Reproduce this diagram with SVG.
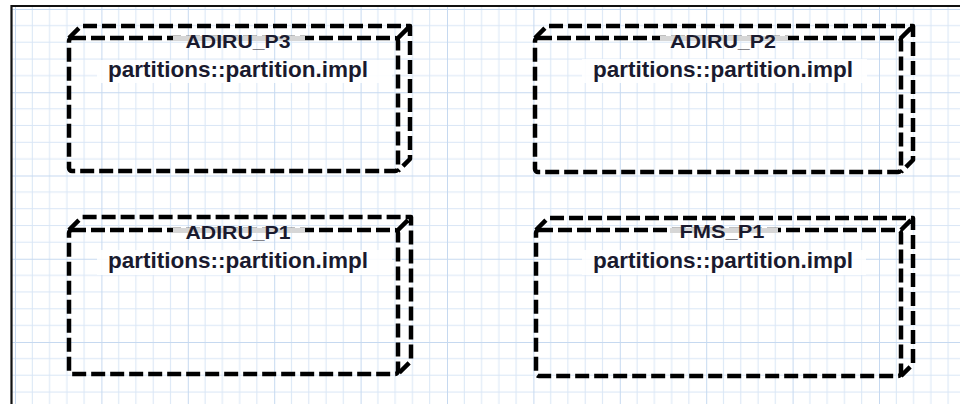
<svg xmlns="http://www.w3.org/2000/svg" width="960" height="404" viewBox="0 0 960 404">
  <defs>
    <pattern id="grid" patternUnits="userSpaceOnUse" x="15" y="9" width="86.4" height="83.25">
      <g stroke="#d9e6f6" stroke-width="1" fill="none">
        <path d="M17.28 0V83.25M34.56 0V83.25M51.84 0V83.25M69.12 0V83.25"/>
        <path d="M0 16.65H86.4M0 33.3H86.4M0 49.95H86.4M0 66.6H86.4"/>
      </g>
      <g stroke="#c6d9f0" stroke-width="1" fill="none">
        <path d="M0.5 0V83.25M0 0.5H86.4"/>
      </g>
    </pattern>
    <style>
      .box { fill: none; stroke: #000; stroke-width: 4.5; stroke-dasharray: 14 5; stroke-linejoin: round; }
      .band { fill: #d6d6d6; }
      .subbg { fill: #ffffff; fill-opacity: 0.88; }
      .title { font-family: "Liberation Sans", Arial, sans-serif; font-weight: bold; font-size: 19px; fill: #1a1a2e; text-anchor: middle; }
      .sub { font-family: "Liberation Sans", Arial, sans-serif; font-weight: bold; font-size: 21.5px; fill: #1a1a2e; text-anchor: middle; }
    </style>
  </defs>

  <rect x="0" y="0" width="960" height="404" fill="#ffffff"/>
  <rect x="12" y="6" width="948" height="398" fill="url(#grid)"/>
  <path d="M11.5 404V6H960" fill="none" stroke="#111" stroke-width="2.2"/>

  <g id="connectors"></g>

  <g id="ADIRU_P3">
    <rect class="box" x="69" y="38" width="329" height="133" rx="3"/>
    <path class="box" d="M69 38L81 26H410V159L398 171M398 38L410 26"/>
    <rect class="band" x="173" y="36" width="132" height="5"/>
    <text class="title" x="238" y="48" textLength="105" lengthAdjust="spacingAndGlyphs">ADIRU_P3</text>
    <rect class="subbg" x="97" y="60" width="295" height="23"/>
    <text class="sub" x="238" y="77" textLength="260" lengthAdjust="spacingAndGlyphs">partitions::partition.impl</text>
  </g>

  <g id="ADIRU_P2">
    <rect class="box" x="535" y="38" width="366" height="134" rx="3"/>
    <path class="box" d="M535 38L547 26H913V160L901 172M901 38L913 26"/>
    <rect class="band" x="660" y="36" width="128" height="5"/>
    <text class="title" x="723" y="48" textLength="106" lengthAdjust="spacingAndGlyphs">ADIRU_P2</text>
    <rect class="subbg" x="582" y="59" width="285" height="24"/>
    <text class="sub" x="723" y="77" textLength="260" lengthAdjust="spacingAndGlyphs">partitions::partition.impl</text>
  </g>

  <g id="ADIRU_P1">
    <rect class="box" x="69" y="230" width="329" height="144" rx="3"/>
    <path class="box" d="M69 230L82 217H411V361L398 374M398 230L411 217"/>
    <rect class="band" x="173" y="228" width="132" height="5"/>
    <text class="title" x="238" y="239" textLength="105" lengthAdjust="spacingAndGlyphs">ADIRU_P1</text>
    <rect class="subbg" x="97" y="250" width="295" height="25"/>
    <text class="sub" x="238" y="268" textLength="260" lengthAdjust="spacingAndGlyphs">partitions::partition.impl</text>
  </g>

  <g id="FMS_P1">
    <rect class="box" x="536" y="230" width="365" height="146" rx="3"/>
    <path class="box" d="M536 230L548 218H913V364L901 376M901 230L913 218"/>
    <rect class="band" x="670" y="228" width="108" height="5"/>
    <text class="title" x="722" y="238" textLength="85" lengthAdjust="spacingAndGlyphs">FMS_P1</text>
    <rect class="subbg" x="582" y="250" width="284" height="25"/>
    <text class="sub" x="723" y="268" textLength="260" lengthAdjust="spacingAndGlyphs">partitions::partition.impl</text>
  </g>
</svg>
